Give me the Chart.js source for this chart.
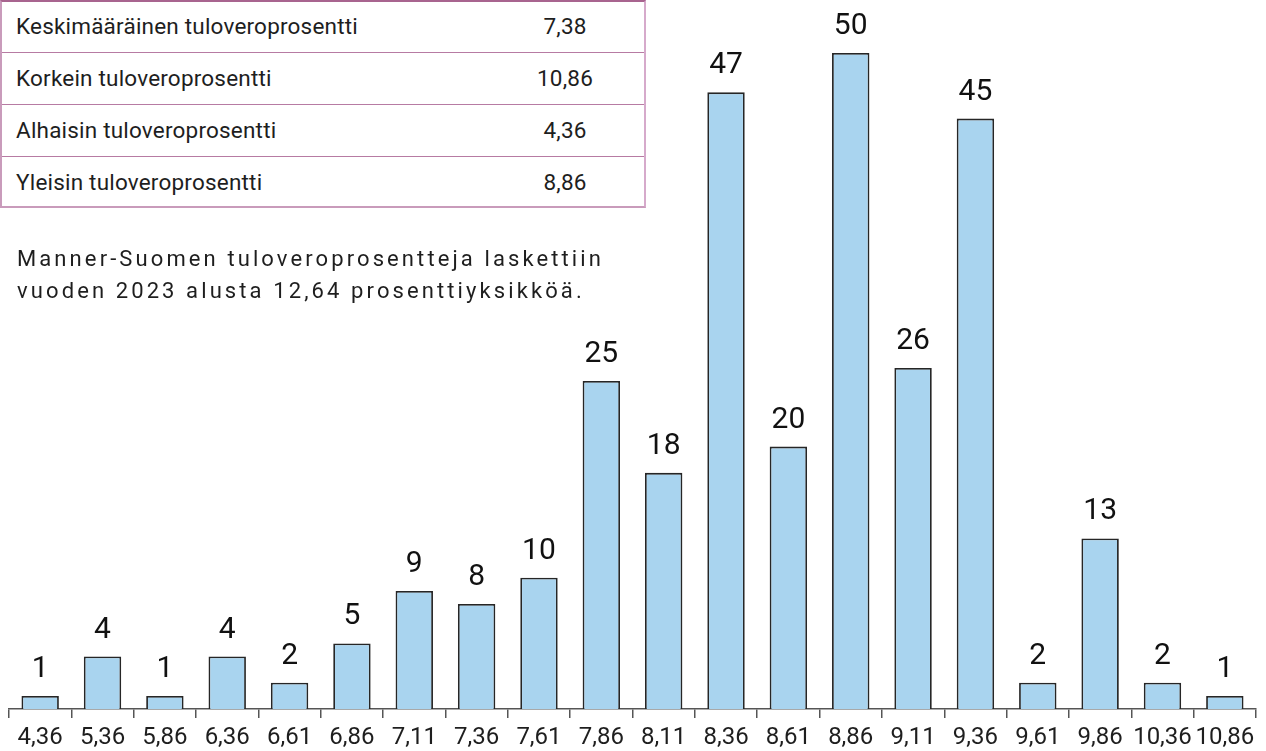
<!DOCTYPE html>
<html><head><meta charset="utf-8">
<script src="https://cdn.jsdelivr.net/npm/chart.js@4"></script>
<style>
html,body{margin:0;padding:0;background:#fff;}
#wrap{position:relative;width:1266px;height:751px;}
canvas{position:absolute;left:0;top:0;}
#tbl{position:absolute;left:0;top:0;width:646px;height:208px;font-family:Roboto,sans-serif;font-size:22.5px;letter-spacing:0.2px;color:#1e1e1e;background:#fff;box-sizing:border-box;border-left:2px solid #c99bbb;border-right:2px solid #d6aacb;border-top:2px solid #a8648f;border-bottom:2px solid #c99bbb;}
.row{position:absolute;left:0;width:642px;height:52px;box-sizing:border-box;}
.row .l{position:absolute;left:14px;top:0;line-height:50px;}
.row .v{position:absolute;left:488px;width:150px;text-align:center;top:0;line-height:50px;}
.sep{position:absolute;left:0;width:642px;height:0;border-top:1.5px solid #b77ba3;}
#note{position:absolute;left:17px;top:243px;font-family:Roboto,sans-serif;font-size:22px;letter-spacing:3.1px;line-height:32px;color:#1e1e1e;}
</style></head>
<body><div id="wrap"><canvas id="c" width="1266" height="751"></canvas>
<div id="tbl"></div>
<div id="note"></div></div>
<script>
const categories = ["4,36","5,36","5,86","6,36","6,61","6,86","7,11","7,36","7,61","7,86","8,11","8,36","8,61","8,86","9,11","9,36","9,61","9,86","10,36","10,86"];
const counts = [1,4,1,4,2,5,9,8,10,25,18,47,20,50,26,45,2,13,2,1];
const tableLabels = ["Keskimääräinen tuloveroprosentti","Korkein tuloveroprosentti","Alhaisin tuloveroprosentti","Yleisin tuloveroprosentti"];
const tableValues = ["7,38","10,86","4,36","8,86"];
const noteLines = ["Manner-Suomen tuloveroprosentteja laskettiin","vuoden 2023 alusta 12,64 prosenttiyksikköä."];

const tbl = document.getElementById('tbl');
tableLabels.forEach((l,i)=>{
  const r=document.createElement('div');r.className='row';r.style.top=(i*52-1)+'px';
  const a=document.createElement('div');a.className='l';a.textContent=l;
  const b=document.createElement('div');b.className='v';b.textContent=tableValues[i];
  r.appendChild(a);r.appendChild(b);tbl.appendChild(r);
  if(i>0){const s=document.createElement('div');s.className='sep';s.style.top=(i*52-2)+'px';tbl.appendChild(s);}
});
const note=document.getElementById('note');
noteLines.forEach(s=>{const d=document.createElement('div');d.textContent=s;note.appendChild(d);});

const valueLabels = {
  id:'valueLabels',
  afterDatasetsDraw(chart){
    const ctx=chart.ctx;
    const meta=chart.getDatasetMeta(0);
    ctx.save();
    ctx.font='30px Roboto, sans-serif';
    ctx.fillStyle='#111';
    ctx.textAlign='center';
    ctx.textBaseline='alphabetic';
    meta.data.forEach((bar,i)=>{
      ctx.fillText(String(counts[i]), bar.x, bar.y-19);
    });
    ctx.restore();
  }
};

new Chart(document.getElementById('c'),{
  type:'bar',
  data:{labels:categories,datasets:[{data:counts,backgroundColor:'#a9d4ef',borderColor:'#262626',borderWidth:1.8,categoryPercentage:1,barPercentage:0.6}]},
  options:{
    responsive:false,animation:false,
    layout:{padding:{left:9,right:10,top:53,bottom:0}},
    plugins:{legend:{display:false},tooltip:{enabled:false}},
    scales:{
      y:{display:false,min:0,max:50},
      x:{
        offset:true,
        afterFit(scale){ scale.height = 42; },
        grid:{display:true,offset:true,drawOnChartArea:false,drawTicks:true,tickLength:9,color:'#555',lineWidth:1.5},
        border:{display:true,color:'#555',width:1.5},
        ticks:{color:'#1e1e1e',font:{family:'Roboto, sans-serif',size:24},padding:6,maxRotation:0,autoSkip:false}
      }
    }
  },
  plugins:[valueLabels]
});
</script></body></html>
